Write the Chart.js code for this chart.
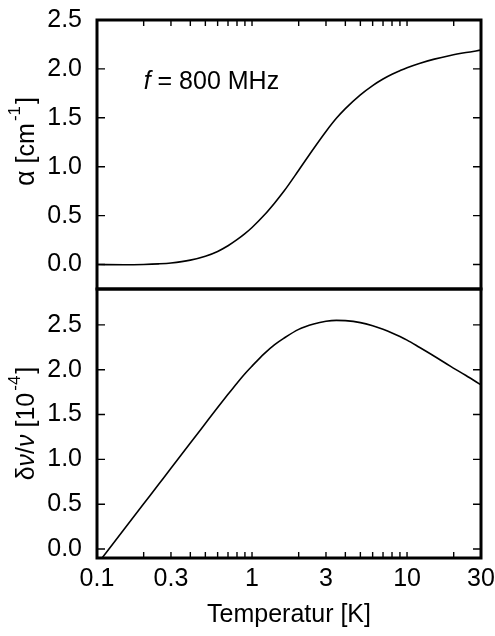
<!DOCTYPE html>
<html><head><meta charset="utf-8">
<script src="https://cdn.jsdelivr.net/npm/chart.js@4.4.1/dist/chart.umd.min.js"></script>
<style>
html,body{margin:0;padding:0;background:#fff;}
#wrap{position:relative;width:495px;height:636px;}
canvas{position:absolute;left:0;top:0;}
</style></head><body>
<div id="wrap"><canvas id="cA" width="495" height="636"></canvas><canvas id="cB" width="495" height="636"></canvas></div>
<script>
// ---- data ----
const temperatures = [0.1, 0.15, 0.2, 0.25, 0.3, 0.4, 0.5, 0.6, 0.7, 0.8, 0.9, 1.0, 1.2, 1.4, 1.6, 2.0, 2.5, 3.0, 3.5, 4.0, 5.0, 6.0, 7.0, 8.0, 9.0, 10, 12, 15, 19, 24, 30];
const alphaValues  = [0.000, -0.002, 0.001, 0.007, 0.016, 0.045, 0.085, 0.134, 0.192, 0.254, 0.316, 0.379, 0.506, 0.630, 0.746, 0.964, 1.187, 1.361, 1.495, 1.594, 1.735, 1.830, 1.897, 1.946, 1.982, 2.012, 2.056, 2.100, 2.137, 2.167, 2.192];
const dvValues     = [-0.173, 0.223, 0.504, 0.722, 0.900, 1.182, 1.400, 1.578, 1.725, 1.850, 1.955, 2.040, 2.180, 2.280, 2.350, 2.450, 2.510, 2.540, 2.550, 2.547, 2.525, 2.490, 2.450, 2.410, 2.370, 2.330, 2.250, 2.150, 2.040, 1.935, 1.830];
const xTickLabels  = [0.1, 0.3, 1, 3, 10, 30];
const xMinorTicks  = [0.2, 0.3, 0.4, 0.5, 0.6, 0.7, 0.8, 0.9, 1, 2, 3, 4, 5, 6, 7, 8, 9, 10, 20];
const alphaTicks   = [0, 0.5, 1.0, 1.5, 2.0, 2.5];
const dvTicks      = [0, 0.5, 1.0, 1.5, 2.0, 2.5];
const xRange = [0.1, 30];
const alphaRange = [-0.25, 2.5];
const dvRange = [-0.1, 2.9];
const annotationText = ['f', ' = 800 MHz'];
const annotationAt = [0.2, 1.79];
const alphaTitle = [{t: 'α', size: 27}, {t: ' [cm'}, {t: '-1', sup: true}, {t: ']'}];
const dvTitle = [{t: 'δ'}, {t: 'ν', it: true}, {t: '/'}, {t: 'ν', it: true}, {t: ' [10'}, {t: '-4', sup: true}, {t: ']'}];

const FONT = "'Liberation Sans', Arial, Helvetica, sans-serif";
const FS = 25;
Chart.defaults.font.family = FONT;
Chart.defaults.color = '#000';

const framePlugin = {
  id: 'frame',
  afterDatasetsDraw(chart, args, o) {
    const {ctx, chartArea: a, scales} = chart;
    ctx.save();
    ctx.strokeStyle = '#000';
    ctx.lineWidth = 1.4;
    const ys = scales.y, xs = scales.x;
    ctx.beginPath();
    o.yTicks.forEach(v => {
      const py = ys.getPixelForValue(v);
      ctx.moveTo(a.left, py); ctx.lineTo(a.left + 8, py);
      ctx.moveTo(a.right, py); ctx.lineTo(a.right - 8, py);
    });
    o.xTicks.forEach(v => {
      const px = xs.getPixelForValue(v);
      if (o.xEdge === 'top') { ctx.moveTo(px, a.top); ctx.lineTo(px, a.top + 6); }
      else { ctx.moveTo(px, a.bottom); ctx.lineTo(px, a.bottom - 6); }
    });
    ctx.stroke();
    ctx.lineWidth = 3;
    ctx.strokeRect(a.left, a.top, a.right - a.left, a.bottom - a.top);
    ctx.fillStyle = '#000';
    if (o.note) {
      const px = xs.getPixelForValue(o.note.at[0]);
      const py = ys.getPixelForValue(o.note.at[1]);
      ctx.textBaseline = 'alphabetic';
      ctx.textAlign = 'left';
      ctx.font = 'italic ' + FS + 'px ' + FONT;
      ctx.fillText(o.note.text[0], px, py);
      const w = ctx.measureText(o.note.text[0]).width;
      ctx.font = FS + 'px ' + FONT;
      ctx.fillText(o.note.text[1], px + w, py);
    }
    if (o.title) {
      const parts = o.title.map(p => {
        const f = (p.it ? 'italic ' : '') + (p.sup ? 17 : (p.size || FS)) + 'px ' + FONT;
        ctx.font = f;
        return {t: p.t, f, w: ctx.measureText(p.t).width + (p.sup ? 4 : 0), sup: p.sup};
      });
      const total = parts.reduce((s, p) => s + p.w, 0);
      const cy = (a.top + a.bottom) / 2 + o.titleShift;
      ctx.translate(o.titleX, cy);
      ctx.rotate(-Math.PI / 2);
      ctx.textAlign = 'left';
      ctx.textBaseline = 'alphabetic';
      let x = -total / 2;
      parts.forEach(p => {
        ctx.font = p.f;
        ctx.fillText(p.t, x + (p.sup ? 2 : 0), p.sup ? -7 : 7);
        x += p.w;
      });
    }
    ctx.restore();
  }
};

function yScale(range, ticks) {
  return {
    type: 'linear', position: 'left', min: range[0], max: range[1],
    grid: {display: false, drawTicks: false}, border: {display: false},
    afterBuildTicks: s => { s.ticks = ticks.map(v => ({value: v})); },
    afterFit: s => { s.width = 97; s.paddingTop = 0; s.paddingBottom = 0; },
    ticks: {font: {size: FS}, padding: 15, color: '#000', callback: v => Number(v).toFixed(1)},
    title: {display: false}
  };
}

new Chart(document.getElementById('cA'), {
  type: 'line',
  data: {datasets: [{data: temperatures.map((t, i) => ({x: t, y: alphaValues[i]})), borderColor: '#000', borderWidth: 1.6, pointRadius: 0, cubicInterpolationMode: 'monotone', fill: false}]},
  options: {
    responsive: false, animation: false, devicePixelRatio: 1,
    layout: {padding: {left: 0, right: 14, top: 20, bottom: 347}},
    plugins: {legend: {display: false}, tooltip: {enabled: false},
      frame: {yTicks: alphaTicks, xTicks: xMinorTicks, xEdge: 'top', note: {text: annotationText, at: annotationAt},
        title: alphaTitle, titleX: 27, titleShift: -13}},
    scales: {
      x: {type: 'logarithmic', min: xRange[0], max: xRange[1], display: false},
      y: yScale(alphaRange, alphaTicks)
    }
  },
  plugins: [framePlugin]
});

new Chart(document.getElementById('cB'), {
  type: 'line',
  data: {datasets: [{data: temperatures.map((t, i) => ({x: t, y: dvValues[i]})), borderColor: '#000', borderWidth: 1.6, pointRadius: 0, cubicInterpolationMode: 'monotone', fill: false}]},
  options: {
    responsive: false, animation: false, devicePixelRatio: 1,
    layout: {padding: {left: 0, right: 14, top: 289, bottom: 0}},
    plugins: {legend: {display: false}, tooltip: {enabled: false},
      frame: {yTicks: dvTicks, xTicks: xMinorTicks, xEdge: 'bottom', title: dvTitle, titleX: 27, titleShift: 0}},
    scales: {
      x: {type: 'logarithmic', min: xRange[0], max: xRange[1], position: 'bottom',
        grid: {display: false, drawTicks: false}, border: {display: false},
        afterBuildTicks: s => { s.ticks = xTickLabels.map(v => ({value: v})); },
        afterFit: s => { s.height = 78; s.paddingLeft = 0; s.paddingRight = 0; },
        ticks: {font: {size: FS}, padding: 6, color: '#000', autoSkip: false, maxRotation: 0, callback: v => String(v)},
        title: {display: true, text: 'Temperatur [K]', font: {size: FS}, color: '#000', padding: {top: 0, bottom: 6}}
      },
      y: yScale(dvRange, dvTicks)
    }
  },
  plugins: [framePlugin]
});
</script>
</body></html>
